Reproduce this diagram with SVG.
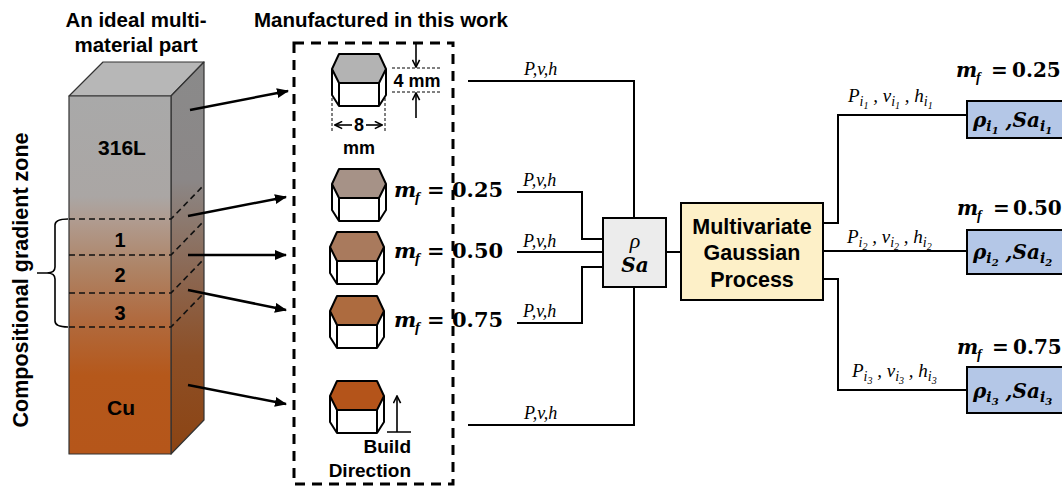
<svg xmlns="http://www.w3.org/2000/svg" width="1062" height="487" viewBox="0 0 1062 487">
  <style>
    .lbl { font-family: "Liberation Sans", Arial, sans-serif; font-weight: bold; fill: #000; }
    .math { font-family: "DejaVu Serif", "Liberation Serif", serif; font-weight: bold; font-style: italic; fill: #000; }
    .mnum { font-family: "DejaVu Serif", "Liberation Serif", serif; font-weight: bold; font-style: normal; }
    .sub { font-family: "Liberation Serif", "Times New Roman", serif; font-weight: bold; font-style: italic; }
    .thin { font-family: "Liberation Serif", "Times New Roman", serif; font-weight: normal; font-style: italic; fill: #000; }
    .pvh { font-family: "Liberation Serif", "Times New Roman", serif; font-style: italic; font-size: 18px; fill: #000; }
    .pvi { font-family: "Liberation Serif", "Times New Roman", serif; font-style: italic; font-size: 19px; fill: #000; }
    .wire { fill: none; stroke: #000; stroke-width: 2; }
    .edge { stroke: #333; stroke-width: 1.2; stroke-linejoin: round; }
    .cut { fill: none; stroke: #111; stroke-width: 1.6; stroke-dasharray: 6 4; }
    .arr { fill: none; stroke: #000; stroke-width: 2.5; marker-end: url(#head); }
    .dim { fill: none; stroke: #000; stroke-width: 1.6; }
    .dimdash { fill: none; stroke: #000; stroke-width: 1; stroke-dasharray: 3 2; }
    .prism-body { fill: #fff; stroke: #000; stroke-width: 2; stroke-linejoin: round; }
    .prism-top { stroke: #000; stroke-width: 2; stroke-linejoin: round; }
  </style>
  <defs>
    <marker id="head" viewBox="0 0 12 10" refX="11" refY="5" markerWidth="12" markerHeight="10" markerUnits="userSpaceOnUse" orient="auto">
      <path d="M0,0 L12,5 L0,10 Z" fill="#000"/>
    </marker>
    <marker id="open" viewBox="0 0 10 10" refX="9" refY="5" markerWidth="9" markerHeight="9" markerUnits="userSpaceOnUse" orient="auto">
      <path d="M1,1 L9,5 L1,9" fill="none" stroke="#000" stroke-width="1.8"/>
    </marker>
    <linearGradient id="frontGrad" gradientUnits="userSpaceOnUse" x1="0" y1="96" x2="0" y2="454">
      <stop offset="0" stop-color="#a9a9a9"/>
      <stop offset="0.28" stop-color="#aaa6a4"/>
      <stop offset="0.35" stop-color="#b09b8f"/>
      <stop offset="0.48" stop-color="#ae8466"/>
      <stop offset="0.62" stop-color="#b06b40"/>
      <stop offset="0.78" stop-color="#b5581b"/>
      <stop offset="1" stop-color="#b5561a"/>
    </linearGradient>
    <linearGradient id="sideGrad" gradientUnits="userSpaceOnUse" x1="0" y1="62" x2="0" y2="454">
      <stop offset="0" stop-color="#8a8a8a"/>
      <stop offset="0.3" stop-color="#8b8787"/>
      <stop offset="0.4" stop-color="#8c7a70"/>
      <stop offset="0.55" stop-color="#8b6650"/>
      <stop offset="0.75" stop-color="#8d4f26"/>
      <stop offset="1" stop-color="#8c4413"/>
    </linearGradient>
    <!-- hexagonal prism pieces, origin at top-centre -->
    <path id="prismBody" d="M-27,15 L-27,41 L-20,52 L20,52 L27,41 L27,15 M-20,29 L-20,52 M20,29 L20,52"/>
    <path id="prismTop" d="M-27,15 L-20,0 L20,0 L27,15 L20,29 L-20,29 Z"/>
  </defs>

  <rect width="1062" height="487" fill="#fff"/>

  <!-- column headings -->
  <text class="lbl" x="136" y="27" font-size="20.5" text-anchor="middle">An ideal multi-</text>
  <text class="lbl" x="136" y="52" font-size="20.5" text-anchor="middle">material part</text>
  <text class="lbl" x="381" y="27" font-size="20.5" text-anchor="middle">Manufactured in this work</text>

  <!-- graded block -->
  <g id="block">
    <polygon points="69,96 103,62 204,62 171,96" fill="#b7b7b7" class="edge"/>
    <polygon points="171,96 204,62 204,420 171,454" fill="url(#sideGrad)" class="edge"/>
    <rect x="69" y="96" width="102" height="358" fill="url(#frontGrad)" class="edge"/>
    <path class="cut" d="M69,219 H171 L204,185 M69,255 H171 L204,221 M69,293 H171 L204,259 M69,327 H171 L204,293"/>
    <text class="lbl" x="122" y="155" font-size="21" text-anchor="middle">316L</text>
    <text class="lbl" x="120" y="247" font-size="20" text-anchor="middle">1</text>
    <text class="lbl" x="120" y="282" font-size="20" text-anchor="middle">2</text>
    <text class="lbl" x="120" y="320" font-size="20" text-anchor="middle">3</text>
    <text class="lbl" x="121" y="415" font-size="21" text-anchor="middle">Cu</text>
  </g>

  <!-- gradient zone brace -->
  <g id="brace">
    <path d="M68,219 Q55,219 55,225 L55,267 Q55,273 47,273 L37,273 M47,273 Q55,273 55,279 L55,321 Q55,327 68,327" fill="none" stroke="#000" stroke-width="1.6"/>
    <text class="lbl" font-size="21.5" text-anchor="middle" transform="translate(28,280) rotate(-90)">Compositional gradient zone</text>
  </g>

  <!-- sample frame -->
  <g id="samples">
    <rect x="294" y="43" width="159" height="441" fill="none" stroke="#000" stroke-width="3" stroke-dasharray="10 7"/>

    <g id="prism-316L" transform="translate(359,54)">
      <use href="#prismBody" class="prism-body"/>
      <use href="#prismTop" class="prism-top" fill="#b3b3b3"/>
    </g>
    <g id="prism-025" transform="translate(359,169)">
      <use href="#prismBody" class="prism-body"/>
      <use href="#prismTop" class="prism-top" fill="#a69287"/>
    </g>
    <g id="prism-050" transform="translate(357,232)">
      <use href="#prismBody" class="prism-body"/>
      <use href="#prismTop" class="prism-top" fill="#a97a5d"/>
    </g>
    <g id="prism-075" transform="translate(357,296)">
      <use href="#prismBody" class="prism-body"/>
      <use href="#prismTop" class="prism-top" fill="#ad6b3f"/>
    </g>
    <g id="prism-Cu" transform="translate(357,381)">
      <use href="#prismBody" class="prism-body"/>
      <use href="#prismTop" class="prism-top" fill="#b4541a"/>
    </g>

    <!-- dimensions -->
    <path class="dimdash" d="M392,68 H442 M392,92 H442 M332,98 V133 M385,98 V133"/>
    <path class="dim" d="M416,43 V67" marker-end="url(#open)"/>
    <path class="dim" d="M416,118 V93" marker-end="url(#open)"/>
    <text class="lbl" x="417" y="87" font-size="18" text-anchor="middle">4 mm</text>
    <path class="dim" d="M352,125 H335" marker-end="url(#open)"/>
    <path class="dim" d="M366,125 H382" marker-end="url(#open)"/>
    <text class="lbl" x="359" y="131" font-size="18" text-anchor="middle">8</text>
    <text class="lbl" x="359" y="154" font-size="18" text-anchor="middle">mm</text>

    <!-- build direction -->
    <path class="dim" d="M387,432 H411 M397,432 V396" marker-end="url(#open)"/>
    <text class="lbl" x="411" y="453" font-size="19" text-anchor="end">Build</text>
    <text class="lbl" x="411" y="477" font-size="19" text-anchor="end">Direction</text>

    <!-- mass fraction labels -->
    <text class="math" font-size="21" y="197"><tspan x="394">m</tspan><tspan class="sub" x="415" dy="5" font-size="15">f</tspan><tspan class="mnum" x="427" dy="-5">=</tspan><tspan class="mnum" x="452">0.25</tspan></text>
    <text class="math" font-size="21" y="258"><tspan x="394">m</tspan><tspan class="sub" x="415" dy="5" font-size="15">f</tspan><tspan class="mnum" x="427" dy="-5">=</tspan><tspan class="mnum" x="452">0.50</tspan></text>
    <text class="math" font-size="21" y="327"><tspan x="394">m</tspan><tspan class="sub" x="415" dy="5" font-size="15">f</tspan><tspan class="mnum" x="427" dy="-5">=</tspan><tspan class="mnum" x="452">0.75</tspan></text>
  </g>

  <!-- measured response box -->
  <g id="node-rho-sa">
    <rect x="603" y="218" width="63" height="69" fill="#ececec" stroke="#000" stroke-width="2"/>
    <text class="thin" x="635" y="248" font-size="22" text-anchor="middle">ρ</text>
    <text class="math" x="635" y="272" font-size="20" text-anchor="middle">Sa</text>
  </g>

  <!-- surrogate model -->
  <g id="node-mgp">
    <rect x="681" y="203" width="142" height="97" fill="#fdf0c8" stroke="#000" stroke-width="2"/>
    <text class="lbl" x="752" y="234" font-size="21.5" text-anchor="middle">Multivariate</text>
    <text class="lbl" x="752" y="260" font-size="21.5" text-anchor="middle">Gaussian</text>
    <text class="lbl" x="752" y="287" font-size="21.5" text-anchor="middle">Process</text>
  </g>

  <!-- predicted outputs -->
  <g id="node-out1">
    <rect x="967" y="101" width="100" height="37" fill="#b4c7e7" stroke="#000" stroke-width="2"/>
    <text class="math" x="973" y="127" font-size="20">ρ<tspan font-size="14" dy="4">i</tspan><tspan font-size="10" dy="3">1</tspan><tspan dy="-7"> ,Sa</tspan><tspan font-size="14" dy="4">i</tspan><tspan font-size="10" dy="3">1</tspan></text>
    <text class="math" font-size="20" y="77"><tspan x="956">m</tspan><tspan class="sub" x="976" dy="5" font-size="14">f</tspan><tspan class="mnum" x="991" dy="-5">=</tspan><tspan class="mnum" x="1012">0.25</tspan></text>
  </g>
  <g id="node-out2">
    <rect x="967" y="230" width="100" height="44" fill="#b4c7e7" stroke="#000" stroke-width="2"/>
    <text class="math" x="973" y="259" font-size="20">ρ<tspan font-size="14" dy="4">i</tspan><tspan font-size="10" dy="3">2</tspan><tspan dy="-7"> ,Sa</tspan><tspan font-size="14" dy="4">i</tspan><tspan font-size="10" dy="3">2</tspan></text>
    <text class="math" font-size="20" y="215"><tspan x="957">m</tspan><tspan class="sub" x="977" dy="5" font-size="14">f</tspan><tspan class="mnum" x="993" dy="-5">=</tspan><tspan class="mnum" x="1013">0.50</tspan></text>
  </g>
  <g id="node-out3">
    <rect x="967" y="367" width="100" height="46" fill="#b4c7e7" stroke="#000" stroke-width="2"/>
    <text class="math" x="973" y="398" font-size="20">ρ<tspan font-size="14" dy="4">i</tspan><tspan font-size="10" dy="3">3</tspan><tspan dy="-7"> ,Sa</tspan><tspan font-size="14" dy="4">i</tspan><tspan font-size="10" dy="3">3</tspan></text>
    <text class="math" font-size="20" y="354"><tspan x="957">m</tspan><tspan class="sub" x="977" dy="5" font-size="14">f</tspan><tspan class="mnum" x="992" dy="-5">=</tspan><tspan class="mnum" x="1013">0.75</tspan></text>
  </g>

  <!-- connectors -->
  <g id="connectors">
    <!-- block to samples -->
    <path class="arr" d="M190,110 L288,91"/>
    <path class="arr" d="M188,216 L286,197"/>
    <path class="arr" d="M188,255 L286,255"/>
    <path class="arr" d="M188,290 L286,310"/>
    <path class="arr" d="M188,385 L286,404"/>

    <!-- process parameters into measurement -->
    <path class="wire" d="M468,81 H634 V218"/>
    <path class="wire" d="M517,192 H582 V239 H603"/>
    <path class="wire" d="M517,252 H603"/>
    <path class="wire" d="M517,323 H582 V267 H603"/>
    <path class="wire" d="M468,425 H634 V287"/>
    <text class="pvh" x="524" y="75">P,v,h</text>
    <text class="pvh" x="523" y="186">P,v,h</text>
    <text class="pvh" x="523" y="247">P,v,h</text>
    <text class="pvh" x="523" y="317">P,v,h</text>
    <text class="pvh" x="524" y="419">P,v,h</text>

    <path class="wire" d="M666,252 H681"/>

    <!-- model to predictions -->
    <path class="wire" d="M823,223 H838 V115 H967"/>
    <path class="wire" d="M823,251 H967"/>
    <path class="wire" d="M823,279 H838 V390 H967"/>
    <text class="pvi" x="848" y="102">P<tspan font-size="14" dy="4">i</tspan><tspan font-size="10" dy="3">1</tspan><tspan dy="-7"> , </tspan>v<tspan font-size="14" dy="4">i</tspan><tspan font-size="10" dy="3">1</tspan><tspan dy="-7"> , </tspan>h<tspan font-size="14" dy="4">i</tspan><tspan font-size="10" dy="3">1</tspan></text>
    <text class="pvi" x="847" y="243">P<tspan font-size="14" dy="4">i</tspan><tspan font-size="10" dy="3">2</tspan><tspan dy="-7"> , </tspan>v<tspan font-size="14" dy="4">i</tspan><tspan font-size="10" dy="3">2</tspan><tspan dy="-7"> , </tspan>h<tspan font-size="14" dy="4">i</tspan><tspan font-size="10" dy="3">2</tspan></text>
    <text class="pvi" x="852" y="377">P<tspan font-size="14" dy="4">i</tspan><tspan font-size="10" dy="3">3</tspan><tspan dy="-7"> , </tspan>v<tspan font-size="14" dy="4">i</tspan><tspan font-size="10" dy="3">3</tspan><tspan dy="-7"> , </tspan>h<tspan font-size="14" dy="4">i</tspan><tspan font-size="10" dy="3">3</tspan></text>
  </g>
</svg>
